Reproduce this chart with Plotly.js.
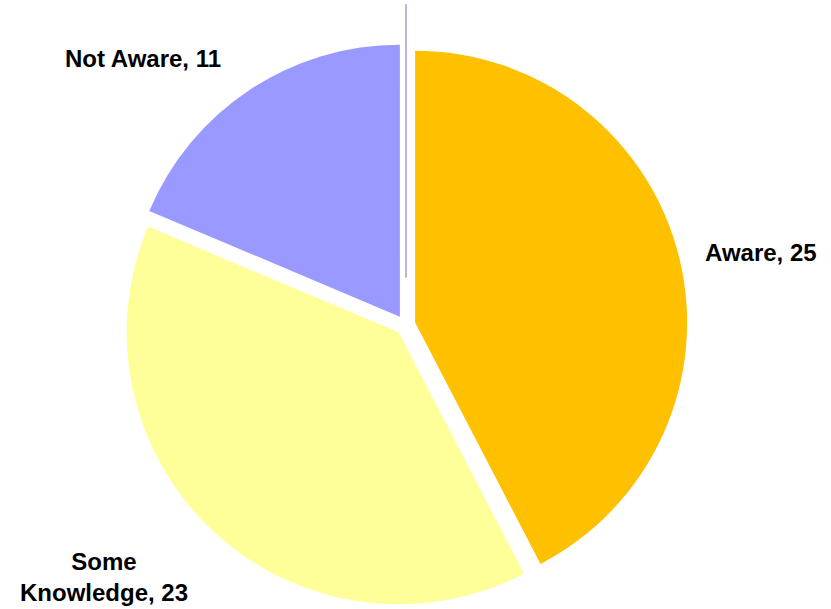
<!DOCTYPE html>
<html>
<head>
<meta charset="utf-8">
<script src="https://cdn.plot.ly/plotly-3.0.1.min.js"></script>
<style>html,body{margin:0;padding:0;background:#fff;}#chart{width:831px;height:609px;}</style>
</head>
<body>
<div id="chart"></div>
<script>
// Data
const categories = ['Aware', 'Some Knowledge', 'Not Aware'];
const counts = [25, 23, 11];
const labelLines = ['Aware', 'Some<br>Knowledge', 'Not Aware'];  // label text as wrapped in the source
const zeroCategory = '';   // empty category drawn by the source as a thin line
const zeroCount = 0;
const sliceColors = ['#FFC000', '#FFFF99', '#9999FF'];
const zeroLineColor = '#BFB2D6';

const fontFam = '"Liberation Sans", Arial, Helvetica, sans-serif';

const mainPie = {
  type: 'pie',
  labels: categories,
  values: counts,
  sort: false,
  direction: 'clockwise',
  rotation: 0,
  pull: [0.0368, 0.0368, 0.0368],
  marker: {colors: sliceColors, line: {width: 0}},
  textinfo: 'none',
  hoverinfo: 'label+value',
  showlegend: false,
  domain: {x: [0.1485, 0.8272], y: [0.0033, 0.9294]}
};

const allLabels = categories.concat([zeroCategory]);
const allValues = counts.concat([zeroCount]);
const linePie = {
  type: 'pie',
  labels: allLabels.map((l, i) => l || ('blank' + i)),
  values: allValues,
  sort: false,
  direction: 'clockwise',
  rotation: 0,
  marker: {
    colors: ['rgba(0,0,0,0)', 'rgba(0,0,0,0)', 'rgba(0,0,0,0)', 'rgba(0,0,0,0)'],
    line: {width: [0, 0, 0, 2], color: ['rgba(0,0,0,0)', 'rgba(0,0,0,0)', 'rgba(0,0,0,0)', zeroLineColor]}
  },
  textinfo: 'none',
  hoverinfo: 'skip',
  showlegend: false,
  domain: {x: [0.1613, 0.8159], y: [0.0985, 0.9918]}
};

// label placements (paper coords) for each category
const labelPos = [
  {x: 0.9152, y: 0.5862},
  {x: 0.1251, y: 0.0525},
  {x: 0.1715, y: 0.9039}
];

const annotations = categories.map((c, i) => ({
  xref: 'paper', yref: 'paper',
  x: labelPos[i].x, y: labelPos[i].y,
  xanchor: 'center', yanchor: 'middle',
  text: '<b>' + labelLines[i] + ', ' + counts[i] + '</b>',
  showarrow: false,
  align: 'center',
  font: {family: fontFam, size: 24, color: '#000'}
}));

const layout = {
  width: 831, height: 609,
  margin: {l: 0, r: 0, t: 0, b: 0},
  paper_bgcolor: '#fff',
  plot_bgcolor: '#fff',
  showlegend: false,
  annotations: annotations,
  font: {family: fontFam}
};

Plotly.newPlot('chart', [mainPie, linePie], layout, {displayModeBar: false, staticPlot: true});
</script>
</body>
</html>
